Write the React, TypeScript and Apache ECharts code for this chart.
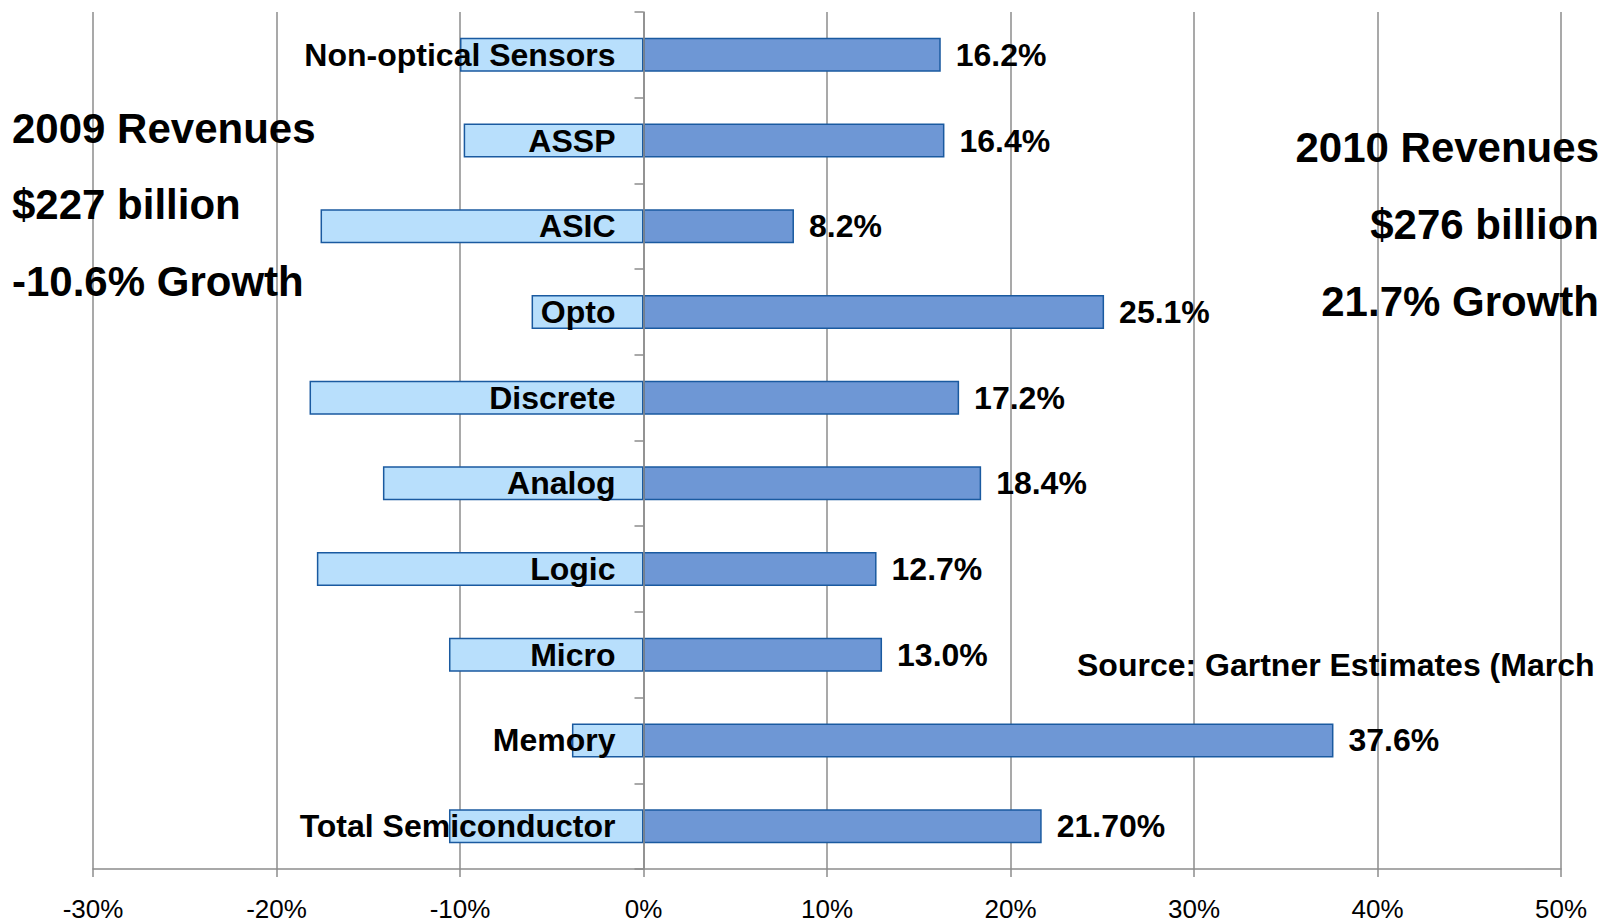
import React, { useEffect, useRef } from "react";
import * as echarts from "echarts";

const categories = [
  "Non-optical Sensors",
  "ASSP",
  "ASIC",
  "Opto",
  "Discrete",
  "Analog",
  "Logic",
  "Micro",
  "Memory",
  "Total Semiconductor",
];
const growth2009 = [-10.0, -9.8, -17.6, -6.1, -18.2, -14.2, -17.8, -10.6, -3.9, -10.6];
const growth2010 = [16.2, 16.4, 8.2, 25.1, 17.2, 18.4, 12.7, 13.0, 37.6, 21.7];
const labels2010 = ["16.2%", "16.4%", "8.2%", "25.1%", "17.2%", "18.4%", "12.7%", "13.0%", "37.6%", "21.70%"];
const xTicks = { min: -30, max: 50, interval: 10 };
const leftNotes = ["2009 Revenues", "$227 billion", "-10.6% Growth"];
const rightNotes = ["2010 Revenues", "$276 billion", "21.7% Growth"];
const sourceNote = "Source: Gartner Estimates (March";

const FONT = "Arial, 'Liberation Sans', Helvetica, sans-serif";
const GRID_LEFT = 93;
const GRID_RIGHT = 41;
const WIDTH = 1602;

export default function App() {
  const ref = useRef<HTMLDivElement>(null);
  useEffect(() => {
    document.body.style.margin = "0";
    const chart = echarts.init(ref.current!, null, { renderer: "svg" });
    const gridW = WIDTH - GRID_LEFT - GRID_RIGHT;
    const zeroOffset = (gridW * (0 - xTicks.min)) / (xTicks.max - xTicks.min);
    const noteText = (text: string, x: number, y: number, align: string, size: number) => ({
      type: "text",
      x,
      y,
      z: 100,
      style: {
        text,
        fill: "#000",
        fontFamily: FONT,
        fontWeight: "bold",
        fontSize: size,
        textAlign: align,
        textVerticalAlign: "middle",
      },
    });
    chart.setOption({
      animation: false,
      backgroundColor: "#fff",
      grid: {
        left: GRID_LEFT,
        right: GRID_RIGHT,
        top: 12,
        bottom: 52,
        containLabel: false,
        outerBoundsMode: "none",
      },
      xAxis: {
        type: "value",
        min: xTicks.min,
        max: xTicks.max,
        interval: xTicks.interval,
        axisLine: { show: true, lineStyle: { color: "#8c8c8c", width: 1.5 } },
        axisTick: { show: true, length: 8, lineStyle: { color: "#8c8c8c", width: 1.5 } },
        splitLine: { show: true, lineStyle: { color: "#8c8c8c", width: 1.5 } },
        axisLabel: {
          formatter: (v: number) => `${v}%`,
          color: "#000",
          fontFamily: FONT,
          fontSize: 26,
          margin: 27,
        },
      },
      yAxis: {
        type: "category",
        data: categories,
        inverse: true,
        position: "left",
        offset: -zeroOffset,
        z: 10,
        axisLine: { show: true, onZero: false, lineStyle: { color: "#8c8c8c", width: 1.5 } },
        axisTick: { show: true, length: 9, inside: false, lineStyle: { color: "#8c8c8c", width: 1.5 } },
        splitLine: { show: false },
        axisLabel: {
          color: "#000",
          fontFamily: FONT,
          fontWeight: "bold",
          fontSize: 32,
          margin: 28,
        },
      },
      series: [
        {
          name: "2009",
          type: "bar",
          data: growth2009,
          barWidth: 34,
          barGap: "-100%",
          itemStyle: { color: "#b8dffc", borderColor: "#1a5aa0", borderWidth: 1.5 },
        },
        {
          name: "2010",
          type: "bar",
          data: growth2010,
          barWidth: 34,
          barGap: "-100%",
          itemStyle: { color: "#6e97d5", borderColor: "#1a5aa0", borderWidth: 1.5 },
          label: {
            show: true,
            position: "right",
            distance: 15,
            color: "#000",
            fontFamily: FONT,
            fontWeight: "bold",
            fontSize: 32,
            formatter: (p: any) => labels2010[p.dataIndex],
          },
        },
      ],
      graphic: [
        ...leftNotes.map((t, i) => noteText(t, 12, 128 + i * 76.5, "left", 42)),
        ...rightNotes.map((t, i) => noteText(t, 1599, 147 + i * 77, "right", 42)),
        noteText(sourceNote, 1077, 665, "left", 32),
      ],
    });
    return () => chart.dispose();
  }, []);
  return <div ref={ref} style={{ width: 1602, height: 921 }} />;
}
